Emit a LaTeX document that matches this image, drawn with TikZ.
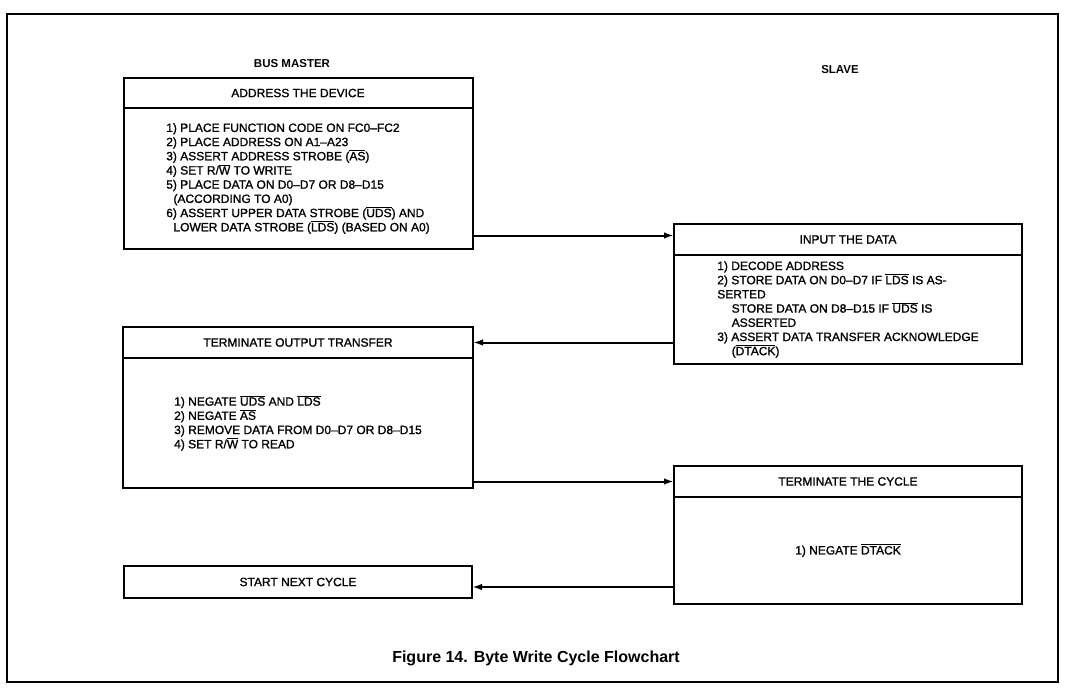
\documentclass[tikz,border=0pt]{standalone}
\usepackage{fontspec}
\setmainfont{Liberation Sans}
\newfontfamily\boxfont[FakeBold=1.2]{Liberation Sans}
\usetikzlibrary{arrows.meta,positioning}

\newcommand{\ovl}[1]{$\overline{\hbox{#1}}$}

\begin{document}
\begin{tikzpicture}[x=1pt, y=-1pt, >={Latex[length=10pt,width=6.5pt]},
  head/.style={draw, line width=2pt, inner sep=0pt, outer sep=0pt,
    minimum height=31pt, font=\boxfont\fontsize{12}{14}\selectfont},
  body/.style={draw, line width=2pt, inner sep=0pt, outer sep=0pt,
    align=left, font=\boxfont\fontsize{12}{14.2}\selectfont},
  side/.style={font=\bfseries\fontsize{11.5}{13}\selectfont},
  flow/.style={->, line width=2pt}]

\def\colA{298}
\def\colB{848}
\def\boxW{349pt}

\useasboundingbox (0,0) rectangle (1079,690);
\draw[line width=1.3pt] (7,14) rectangle (1058,682);

\node[side] (master) at (292,64) {BUS MASTER};
\node[side] (slave) at (840,70) {SLAVE};

% bus master side
\node[head, minimum width=\boxW, minimum height=30pt] (addrhead) at (\colA,93)
  {ADDRESS THE DEVICE};
\node[body, minimum width=\boxW, minimum height=141pt, below=0pt of addrhead] (addrbody)
  {1) PLACE FUNCTION CODE ON FC0–FC2\\
   2) PLACE ADDRESS ON A1–A23\\
   3) ASSERT ADDRESS STROBE (\ovl{AS})\\
   4) SET R/\ovl{W} TO WRITE\\
   5) PLACE DATA ON D0–D7 OR D8–D15\\
   \hspace*{0.6em}(ACCORDING TO A0)\\
   6) ASSERT UPPER DATA STROBE (\ovl{UDS}) AND\\
   \hspace*{0.6em}LOWER DATA STROBE (\ovl{LDS}) (BASED ON A0)};

\node[head, minimum width=350pt] (outhead) at (\colA,342.5)
  {TERMINATE OUTPUT TRANSFER};
\node[body, minimum width=350pt, minimum height=130pt, below=0pt of outhead] (outbody)
  {1) NEGATE \ovl{UDS} AND \ovl{LDS}\\
   2) NEGATE \ovl{AS}\\
   3) REMOVE DATA FROM D0–D7 OR D8–D15\\
   4) SET R/\ovl{W} TO READ};

\node[head, minimum width=348pt, minimum height=32pt] (next) at (\colA,582)
  {START NEXT CYCLE};

% slave side
\node[head, minimum width=348pt] (inputhead) at (\colB,239.5)
  {INPUT THE DATA};
\node[body, minimum width=348pt, minimum height=109pt, below=0pt of inputhead] (inputbody)
  {1) DECODE ADDRESS\\
   2) STORE DATA ON D0–D7 IF \ovl{LDS} IS AS-\\
   SERTED\\
   \hspace*{1.2em}STORE DATA ON D8–D15 IF \ovl{UDS} IS\\
   \hspace*{1.2em}ASSERTED\\
   3) ASSERT DATA TRANSFER ACKNOWLEDGE\\
   \hspace*{1.2em}(\ovl{DTACK})};

\node[head, minimum width=348pt] (cyclehead) at (\colB,481.5)
  {TERMINATE THE CYCLE};
\node[body, minimum width=348pt, minimum height=107pt, below=0pt of cyclehead] (cyclebody)
  {1) NEGATE \ovl{DTACK}};

% handshake
\coordinate (in1) at ([yshift=4pt]inputhead.west);
\coordinate (in4) at ([yshift=-5pt]next.east);
\draw[flow] (addrbody.east |- in1) -- (in1);
\draw[flow] (inputbody.west |- outhead.east) -- (outhead.east);
\draw[flow] (outbody.east |- cyclehead.west) -- (cyclehead.west);
\draw[flow] (cyclebody.west |- in4) -- (in4);

\node[font=\bfseries\fontsize{16}{18}\selectfont] (caption) at (536,658)
  {Figure 14. Byte Write Cycle Flowchart};

\end{tikzpicture}
\end{document}
